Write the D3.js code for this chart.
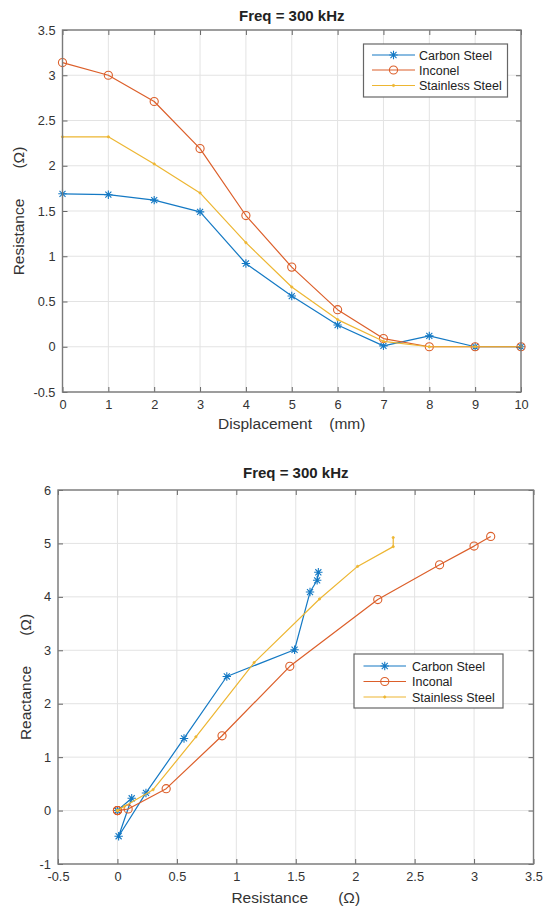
<!DOCTYPE html>
<html>
<head>
<meta charset="utf-8">
<script src="https://cdn.jsdelivr.net/npm/d3@7"></script>
<style>
  html, body { margin: 0; padding: 0; background: #fff; }
  svg { display: block; font-family: "Liberation Sans", Arial, Helvetica, sans-serif; }
</style>
</head>
<body>
<svg id="chart" width="545" height="908"></svg>
<script>
// ---------- data ----------
const displacement = [0, 1, 2, 3, 4, 5, 6, 7, 8, 9, 10];
const seriesNames = ["Carbon Steel", "Inconel", "Stainless Steel"];
const seriesNamesBottom = ["Carbon Steel", "Inconal", "Stainless Steel"];

// Resistance (Ω) vs displacement
const carbonResistance    = [1.69, 1.68, 1.62, 1.49, 0.92, 0.56, 0.24, 0.01, 0.12, 0.00, 0.00];
const inconelResistance   = [3.14, 3.00, 2.71, 2.19, 1.45, 0.88, 0.41, 0.09, 0.00, 0.00, 0.00];
const stainlessResistance = [2.32, 2.32, 2.02, 1.70, 1.15, 0.66, 0.30, 0.06, 0.00, 0.00, 0.00];

// Reactance (Ω) vs displacement
const carbonReactance    = [4.46, 4.31, 4.09, 3.01, 2.51, 1.35, 0.33, -0.48, 0.23, 0.00, 0.00];
const inconelReactance   = [5.13, 4.95, 4.60, 3.95, 2.70, 1.40, 0.41, 0.03, 0.00, 0.00, 0.00];
const stainlessReactance = [5.11, 4.94, 4.57, 3.96, 2.77, 1.38, 0.39, 0.08, 0.00, 0.00, 0.00];

const topXTicks = [0, 1, 2, 3, 4, 5, 6, 7, 8, 9, 10];
const topYTicks = [-0.5, 0, 0.5, 1, 1.5, 2, 2.5, 3, 3.5];
const botXTicks = [-0.5, 0, 0.5, 1, 1.5, 2, 2.5, 3, 3.5];
const botYTicks = [-1, 0, 1, 2, 3, 4, 5, 6];

// ---------- styles ----------
const colors = ["#1479C4", "#DC5F2A", "#EDB632"];
const markers = ["asterisk", "circle", "dot"];
const textColor = "#333";
const svg = d3.select("#chart");

function markerPath(type) {
  if (type === "asterisk") {
    const r = 4.2, d = r * 0.72;
    return `M${-r},0L${r},0M0,${-r}L0,${r}M${-d},${-d}L${d},${d}M${-d},${d}L${d},${-d}`;
  }
  if (type === "circle") {
    return d3.symbol(d3.symbolCircle, 52)();
  }
  return d3.symbol(d3.symbolCircle, 4)();
}

function drawMarker(g, type, color, x, y) {
  const p = g.append("path")
    .attr("transform", `translate(${x},${y})`)
    .attr("d", markerPath(type));
  if (type === "asterisk") p.attr("fill", "none").attr("stroke", color).attr("stroke-width", 1.1);
  else if (type === "circle") p.attr("fill", "none").attr("stroke", color).attr("stroke-width", 1.1);
  else p.attr("fill", color).attr("stroke", color).attr("stroke-width", 0.8);
}

function fmt(v) { return String(v); }

function drawPanel(cfg) {
  const { rect } = cfg;
  const x = d3.scaleLinear().domain(cfg.xDomain).range([rect.x0, rect.x1]);
  const y = d3.scaleLinear().domain(cfg.yDomain).range([rect.y1, rect.y0]);
  const g = svg.append("g");

  // grid
  g.append("g").selectAll("line").data(cfg.xTicks).join("line")
    .attr("x1", d => x(d)).attr("x2", d => x(d))
    .attr("y1", rect.y0).attr("y2", rect.y1)
    .attr("stroke", "#e3e3e3").attr("stroke-width", 1);
  g.append("g").selectAll("line").data(cfg.yTicks).join("line")
    .attr("y1", d => y(d)).attr("y2", d => y(d))
    .attr("x1", rect.x0).attr("x2", rect.x1)
    .attr("stroke", "#e3e3e3").attr("stroke-width", 1);

  // series
  const line = d3.line().x(d => x(d[0])).y(d => y(d[1]));
  cfg.series.forEach((s, i) => {
    const pts = s.xs.map((v, k) => [v, s.ys[k]]);
    g.append("path").datum(pts)
      .attr("d", line).attr("fill", "none")
      .attr("stroke", colors[i]).attr("stroke-width", 1.2)
      .attr("stroke-linejoin", "round");
    const mg = g.append("g");
    pts.forEach(p => drawMarker(mg, markers[i], colors[i], x(p[0]), y(p[1])));
  });

  // axes via d3 axis (ticks inside)
  const tickLen = 5;
  const axB = g.append("g").attr("transform", `translate(0,${rect.y1})`)
    .call(d3.axisBottom(x).tickValues(cfg.xTicks).tickFormat(fmt).tickSizeInner(-tickLen).tickSizeOuter(0).tickPadding(8));
  const axT = g.append("g").attr("transform", `translate(0,${rect.y0})`)
    .call(d3.axisTop(x).tickValues(cfg.xTicks).tickFormat("").tickSizeInner(-tickLen).tickSizeOuter(0));
  const axL = g.append("g").attr("transform", `translate(${rect.x0},0)`)
    .call(d3.axisLeft(y).tickValues(cfg.yTicks).tickFormat(fmt).tickSizeInner(-tickLen).tickSizeOuter(0).tickPadding(cfg.yPad));
  const axR = g.append("g").attr("transform", `translate(${rect.x1},0)`)
    .call(d3.axisRight(y).tickValues(cfg.yTicks).tickFormat("").tickSizeInner(-tickLen).tickSizeOuter(0));
  [axB, axT, axL, axR].forEach(a => {
    a.select(".domain").remove();
    a.selectAll(".tick line").attr("stroke", "#666").attr("stroke-width", 1);
    a.selectAll(".tick text").attr("fill", textColor)
      .style("font-size", "12.8px").style("font-family", '"Liberation Sans", Arial, sans-serif');
  });

  // box
  g.append("rect")
    .attr("x", rect.x0).attr("y", rect.y0)
    .attr("width", rect.x1 - rect.x0).attr("height", rect.y1 - rect.y0)
    .attr("fill", "none").attr("stroke", "#7a7a7a").attr("stroke-width", 1.4);

  // title
  g.append("text")
    .attr("x", (rect.x0 + rect.x1) / 2).attr("y", cfg.titleY)
    .attr("text-anchor", "middle").attr("font-weight", "bold")
    .attr("font-size", 15).attr("fill", "#222")
    .text(cfg.title);

  // x label
  g.append("text")
    .attr("x", (rect.x0 + rect.x1) / 2).attr("y", cfg.xLabelY)
    .attr("text-anchor", "middle").attr("font-size", 15.5).attr("fill", textColor)
    .attr("xml:space", "preserve").style("white-space", "pre")
    .text(cfg.xLabel);

  // y label
  const yc = (rect.y0 + rect.y1) / 2;
  g.append("text")
    .attr("transform", `translate(${cfg.yLabelX},${yc}) rotate(-90)`)
    .attr("text-anchor", "middle").attr("font-size", 15.5).attr("fill", textColor)
    .attr("xml:space", "preserve").style("white-space", "pre")
    .text(cfg.yLabel);

  // legend
  const L = cfg.legend;
  const lg = g.append("g");
  lg.append("rect")
    .attr("x", L.x0).attr("y", L.y0).attr("width", L.x1 - L.x0).attr("height", L.y1 - L.y0)
    .attr("fill", "#fff").attr("stroke", "#666").attr("stroke-width", 1.2);
  cfg.names.forEach((name, i) => {
    const ry = L.rows[i];
    lg.append("line")
      .attr("x1", L.lineX0).attr("x2", L.lineX1).attr("y1", ry).attr("y2", ry)
      .attr("stroke", colors[i]).attr("stroke-width", 1.2);
    drawMarker(lg, markers[i], colors[i], (L.lineX0 + L.lineX1) / 2, ry);
    lg.append("text")
      .attr("x", L.textX).attr("y", ry + 4.5)
      .attr("font-size", 12.5).attr("fill", "#222")
      .text(name);
  });
}

drawPanel({
  rect: { x0: 62.5, x1: 521, y0: 30, y1: 392 },
  xDomain: [0, 10], yDomain: [-0.5, 3.5],
  xTicks: topXTicks, yTicks: topYTicks, yPad: 7,
  series: [
    { xs: displacement, ys: carbonResistance },
    { xs: displacement, ys: inconelResistance },
    { xs: displacement, ys: stainlessResistance }
  ],
  names: seriesNames,
  title: "Freq = 300 kHz", titleY: 21,
  xLabel: "Displacement    (mm)", xLabelY: 429,
  yLabel: "Resistance       (Ω)", yLabelX: 24,
  legend: { x0: 363.5, x1: 507.5, y0: 44, y1: 97, rows: [55, 70, 85.5], lineX0: 372, lineX1: 415, textX: 419 }
});

drawPanel({
  rect: { x0: 58, x1: 533.5, y0: 490, y1: 864 },
  xDomain: [-0.5, 3.5], yDomain: [-1, 6],
  xTicks: botXTicks, yTicks: botYTicks, yPad: 7,
  series: [
    { xs: carbonResistance, ys: carbonReactance },
    { xs: inconelResistance, ys: inconelReactance },
    { xs: stainlessResistance, ys: stainlessReactance }
  ],
  names: seriesNamesBottom,
  title: "Freq = 300 kHz", titleY: 478,
  xLabel: "Resistance       (Ω)", xLabelY: 903,
  yLabel: "Reactance       (Ω)", yLabelX: 31,
  legend: { x0: 354, x1: 503, y0: 654, y1: 708, rows: [666, 681.5, 697], lineX0: 363.5, lineX1: 406, textX: 412 }
});
</script>
</body>
</html>
